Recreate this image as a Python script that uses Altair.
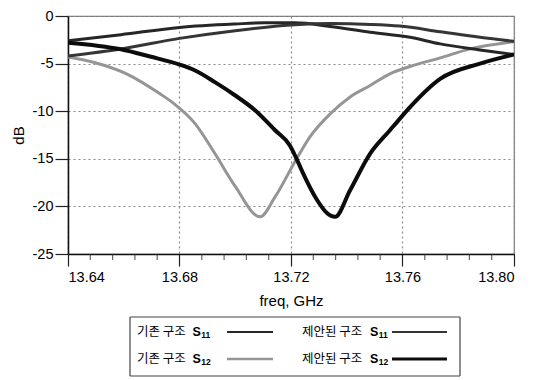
import altair as alt
import pandas as pd

# ---------------- data ----------------
SERIES = ["기존 구조 S11", "기존 구조 S12", "제안된 구조 S11", "제안된 구조 S12"]
LEG_KOR = ["기존 구조", "기존 구조", "제안된 구조", "제안된 구조"]
LEG_SUB = ["11", "12", "11", "12"]

# 기존 구조 S11 (upper curve peaking near 13.71)
f_s11_old = [13.64, 13.659, 13.68, 13.70, 13.7105, 13.7214, 13.734, 13.7484, 13.7627, 13.7735, 13.7878, 13.80]
db_s11_old = [-2.6, -1.96, -1.2, -0.84, -0.72, -0.72, -1.1, -1.7, -2.24, -2.93, -3.56, -4.05]

# 기존 구조 S12 (gray dip near 13.709)
f_s12_old = [13.64, 13.6491, 13.661, 13.673, 13.678, 13.6856, 13.6927, 13.700, 13.7089,
             13.7143, 13.722, 13.7268, 13.734, 13.7412, 13.7484, 13.7555, 13.7627, 13.7735, 13.7842, 13.80]
db_s12_old = [-4.3, -4.86, -6.07, -8.17, -9.2, -11.3, -14.45, -17.9, -21.1,
              -19.0, -15.0, -12.7, -10.3, -8.5, -7.3, -6.07, -5.3, -4.4, -3.45, -2.7]

# 제안된 구조 S11 (upper curve peaking near 13.74)
f_s11_new = [13.64, 13.659, 13.68, 13.70, 13.7214, 13.734, 13.7484, 13.759, 13.7735, 13.7878, 13.80]
db_s11_new = [-4.2, -3.46, -2.35, -1.54, -0.91, -0.8, -0.88, -1.05, -1.65, -2.24, -2.66]

# 제안된 구조 S12 (black dip near 13.736)
f_s12_new = [13.64, 13.659, 13.6694, 13.68, 13.6856, 13.6927, 13.70, 13.7071, 13.7143, 13.7196,
             13.722, 13.7243, 13.7293, 13.7329, 13.7358, 13.7412, 13.7484, 13.7555, 13.759,
             13.7627, 13.7735, 13.7878, 13.80]
db_s12_new = [-2.8, -3.5, -4.26, -5.1, -5.73, -6.95, -8.35, -9.9, -12.0, -13.6,
              -15.0, -16.5, -19.3, -20.7, -21.1, -18.3, -14.45, -12.0, -10.8,
              -9.57, -6.6, -5.0, -4.05]

X_MAJOR = [13.64, 13.68, 13.72, 13.76, 13.80]
X_MINOR = [13.648, 13.656, 13.664, 13.672, 13.688, 13.696, 13.704, 13.712,
           13.728, 13.736, 13.744, 13.752, 13.768, 13.776, 13.784, 13.792]
Y_TICKS = [-25, -20, -15, -10, -5, 0]

# ---------------- styles ----------------
COLORS = ["#262626", "#959595", "#353535", "#0c0c0c"]
WIDTHS = [3, 3, 3, 4]
LEG_WIDTHS = [2.2, 2.6, 2.2, 3]
DRAW_ORDER = [1, 0, 2, 3]
FONT = "Liberation Sans"
W, H = 446, 238
X_DOM = [13.64, 13.80]
Y_DOM = [-25, 0]

rows = []
for name, fs, ds in zip(SERIES, [f_s11_old, f_s12_old, f_s11_new, f_s12_new],
                        [db_s11_old, db_s12_old, db_s11_new, db_s12_new]):
    for f, d in zip(fs, ds):
        rows.append({"series": name, "f": f, "dB": d})
df = pd.DataFrame(rows)
minor_df = pd.DataFrame({"f": X_MINOR})

xscale = alt.Scale(domain=X_DOM, nice=False, zero=False)
yscale = alt.Scale(domain=Y_DOM, nice=False)

axis_style = dict(labelFont=FONT, titleFont=FONT, labelFontSize=14.5, titleFontSize=15,
                  labelColor="#000000", titleColor="#000000", titleFontWeight="normal",
                  domainColor="#111111", domainWidth=1.5, tickColor="#222222", tickWidth=1.2,
                  grid=True, gridColor="#8a8a8a", gridDash=[2, 3], gridWidth=1.2)

x_enc = alt.X("f:Q", scale=xscale,
              axis=alt.Axis(values=X_MAJOR, title="freq, GHz", format=".2f",
                            tickSize=12, labelPadding=4, titlePadding=10, **axis_style))
y_enc = alt.Y("dB:Q", scale=yscale,
              axis=alt.Axis(values=Y_TICKS, title="dB", labelExpr="'' + datum.value",
                            tickSize=13, labelPadding=2, titlePadding=6, **axis_style))

# one layer per curve, each with its own fixed stroke (no colour / width scales)
curve_layers = []
for i in DRAW_ORDER:
    curve_layers.append(
        alt.Chart(df).transform_filter(alt.datum.series == SERIES[i])
        .mark_line(interpolate="monotone", clip=True, color=COLORS[i], strokeWidth=WIDTHS[i])
        .encode(x=x_enc, y=y_enc)
    )

minor_ticks = alt.Chart(minor_df).mark_tick(orient="vertical", size=6, thickness=1.2,
                                            color="#222222", yOffset=3, clip=False).encode(
    x=alt.X("f:Q", scale=xscale), y=alt.datum(-25, scale=yscale)
)

# ---------------- custom legend below the plot (label first, sample line after) ----------------
def px_f(px):
    return X_DOM[0] + px * (X_DOM[1] - X_DOM[0]) / W

def px_db(py):
    return Y_DOM[1] - py * (Y_DOM[1] - Y_DOM[0]) / H

LEG_TOP, LEG_H = 301, 59
col_text_x = [69, 234]
col_line = [(159, 205), (324, 379)]
row_y = [LEG_TOP + 15, LEG_TOP + 42]
leg_rows = []
for i, name in enumerate(SERIES):
    c = 0 if i < 2 else 1
    r = i % 2
    kor = LEG_KOR[i]
    tx = col_text_x[c]
    kor_w = len(kor.replace(" ", "")) * 12.5 + 3.5
    sx = tx + kor_w + 2
    leg_rows.append({"series": name, "kor": kor, "s": "S", "sub": LEG_SUB[i],
                     "f": px_f(tx), "fs": px_f(sx), "fsub": px_f(sx + 8.8),
                     "dB": px_db(row_y[r]),
                     "fl1": px_f(col_line[c][0]), "fl2": px_f(col_line[c][1])})
leg = pd.DataFrame(leg_rows)

# legend frame as four edges
x1, x2 = px_f(62), px_f(392)
y1, y2 = px_db(LEG_TOP), px_db(LEG_TOP + LEG_H)
hedges = pd.DataFrame({"f": [x1, x1], "f2": [x2, x2], "dB": [y1, y2]})
vedges = pd.DataFrame({"f": [x1, x2], "dB": [y1, y1], "dB2": [y2, y2]})

lb = alt.Chart(leg)
kor_t = lb.mark_text(align="left", baseline="middle", font="Noto Sans CJK KR", fontSize=12.5,
                     color="#000000").encode(
    x=alt.X("f:Q", scale=xscale), y=alt.Y("dB:Q", scale=yscale), text="kor:N")
s_t = lb.mark_text(align="left", baseline="middle", font=FONT, fontSize=12.5, fontWeight="bold",
                   color="#000000").encode(
    x=alt.X("fs:Q", scale=xscale), y=alt.Y("dB:Q", scale=yscale), text="s:N")
sub_t = lb.mark_text(align="left", baseline="middle", font=FONT, fontSize=8.5, fontWeight="bold",
                     color="#000000", dy=3).encode(
    x=alt.X("fsub:Q", scale=xscale), y=alt.Y("dB:Q", scale=yscale), text="sub:N")

leg_line_layers = []
for i in range(len(SERIES)):
    leg_line_layers.append(
        lb.transform_filter(alt.datum.series == SERIES[i])
        .mark_rule(color=COLORS[i], strokeWidth=LEG_WIDTHS[i])
        .encode(x=alt.X("fl1:Q", scale=xscale), x2="fl2:Q", y=alt.Y("dB:Q", scale=yscale))
    )

frame_h = alt.Chart(hedges).mark_rule(color="#444444", strokeWidth=1.2).encode(
    x=alt.X("f:Q", scale=xscale), x2="f2:Q", y=alt.Y("dB:Q", scale=yscale))
frame_v = alt.Chart(vedges).mark_rule(color="#444444", strokeWidth=1.2).encode(
    x=alt.X("f:Q", scale=xscale), y=alt.Y("dB:Q", scale=yscale), y2="dB2:Q")

chart = alt.layer(*curve_layers, minor_ticks, frame_h, frame_v, *leg_line_layers,
                  kor_t, s_t, sub_t).properties(
    width=W, height=H,
    padding={"left": 3, "top": 0, "right": 5, "bottom": 0},
).configure_view(stroke="#7a7a7a", strokeWidth=1.2)

chart.save("out.html", embed_options={"renderer": "svg", "actions": False})
